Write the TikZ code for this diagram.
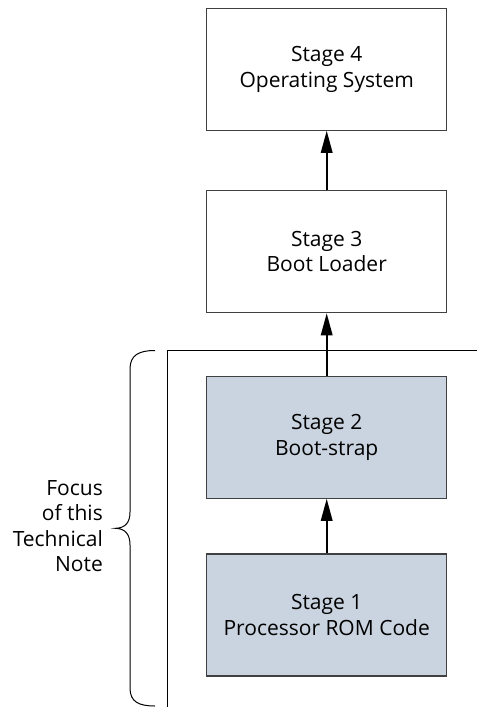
\documentclass[tikz,border=0pt]{standalone}
\usepackage{fontspec}
\setmainfont{Open Sans}
\usepackage{xcolor}
\usetikzlibrary{arrows.meta}
\definecolor{stageBlue}{HTML}{CAD4E0}
\definecolor{stageBorder}{HTML}{404040}

\begin{document}
\begin{tikzpicture} [
    x=1pt, y=-1pt,
    stage/.style={rectangle, draw=stageBorder, line width=1.2pt, minimum width=240pt, minimum height=122pt, align=center, font=\fontsize{21}{25.5}\selectfont, inner sep=0pt},
    focusStage/.style={stage, fill=stageBlue},
    arrow/.style={line width=1.8pt, -{Triangle[length=22pt, width=11.5pt]}},
    frame/.style={line width=1pt},
    brace/.style={line width=1pt}
]
    \useasboundingbox (0, 0) rectangle (477, 707);

    % stages
    \node[stage] (stageFour) at (326.7, 69.2) {Stage 4\\Operating System};
    \node[stage] (stageThree) at (326.7, 251.7) {Stage 3\\Boot Loader};
    \node[focusStage] (stageTwo) at (326.7, 437.2) {Stage 2\\Boot-strap};
    \node[focusStage] (stageOne) at (326.7, 615) {Stage 1\\Processor ROM Code};

    % arrows
    \draw [arrow] (stageThree) -- (stageFour);
    \draw [arrow] (stageTwo) -- (stageThree);
    \draw [arrow] (stageOne) -- (stageTwo);

    % frame
    \coordinate (frameCorner) at (167, 350.5);
    \coordinate (frameRight) at (477, 350.5);
    \coordinate (frameBottom) at (167, 707);
    \draw [frame] (frameRight) -- (frameCorner) -- (frameBottom);

    % brace and label
    \draw [brace] (155, 350.5) .. controls (139, 350.5) and (130, 355) .. (130, 369)
        -- (130, 512) .. controls (130, 523) and (125, 528) .. (115.5, 528.3)
        .. controls (125, 528.6) and (130, 534) .. (130, 545)
        -- (130, 688) .. controls (130, 702) and (139, 706) .. (155, 706);
    \node[align=right, anchor=east, font=\fontsize{21}{25.5}\selectfont, inner sep=0pt] (focusLabel) at (103, 526) {Focus\\of this\\Technical\\Note};

\end{tikzpicture}
\end{document}
